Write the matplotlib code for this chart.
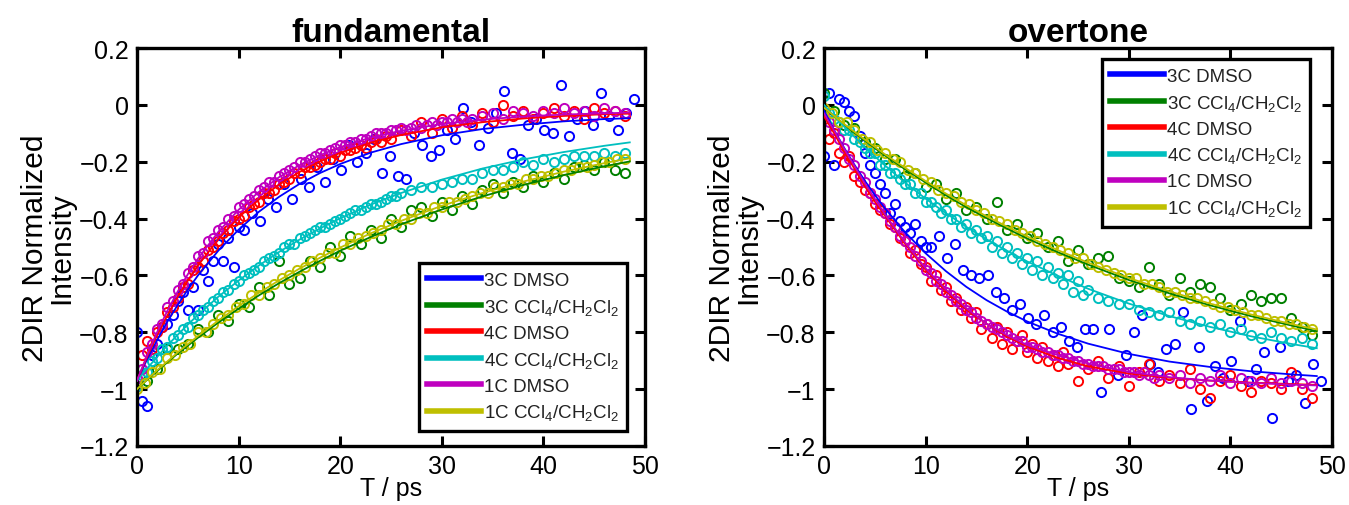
import numpy as np
import matplotlib
matplotlib.use("Agg")
import matplotlib.pyplot as plt

plt.rcParams['font.family'] = ['Liberation Sans', 'DejaVu Sans']
plt.rcParams['mathtext.default'] = 'regular'

# ---------------- labels / colours ----------------
series_labels = ['3C DMSO', '3C CCl$_4$/CH$_2$Cl$_2$', '4C DMSO',
                 '4C CCl$_4$/CH$_2$Cl$_2$', '1C DMSO', '1C CCl$_4$/CH$_2$Cl$_2$']
series_colors = ['#0000ff', '#008000', '#ff0000', '#00bfbf', '#bf00bf', '#bfbf00']
panel_titles = ['fundamental', 'overtone']
x_ticks = [0, 10, 20, 30, 40, 50]
y_ticks = [0.2, 0, -0.2, -0.4, -0.6, -0.8, -1.0, -1.2]
y_ticklabels = ['0.2', '0', '\u22120.2', '\u22120.4', '\u22120.6', '\u22120.8', '\u22121', '\u22121.2']

# time grid at which the fit lines are drawn (ps)
fit_t = [0, 1, 2, 3, 4, 5, 6, 8, 10, 12, 14, 16, 18, 20, 23, 26, 30, 34, 38, 42, 46, 48.5]

# ================= FUNDAMENTAL =================
# 3C DMSO (blue): 0-10 ps every 0.5 ps, then 10.5-48.9 every 0.8 ps
fund_3C_DMSO_a = [-0.80, -1.04, -1.06, -0.88, -0.84, -0.78, -0.77, -0.74, -0.69, -0.66, -0.72,
                  -0.64, -0.72, -0.58, -0.62, -0.55, -0.49, -0.55, -0.47, -0.57, -0.43]
fund_3C_DMSO_b = [-0.44, -0.38, -0.41, -0.33, -0.36, -0.28, -0.33, -0.26, -0.29, -0.22, -0.27,
                  -0.19, -0.23, -0.14, -0.20, -0.17, -0.12, -0.24, -0.18, -0.25, -0.26, -0.10,
                  -0.14, -0.18, -0.16, -0.09, -0.12, -0.01, -0.06, -0.14, -0.08, -0.03, 0.05,
                  -0.17, -0.19, -0.07, -0.05, -0.09, -0.10, 0.07, -0.11, -0.05, -0.02, -0.07,
                  0.04, -0.04, -0.09, -0.03, 0.02]
# 3C CCl4/CH2Cl2 (green): every 1 ps
fund_3C_CCl4 = [-0.99, -0.97, -0.93, -0.86, -0.86, -0.84, -0.79, -0.80, -0.74, -0.76, -0.70,
                -0.71, -0.64, -0.67, -0.55, -0.63, -0.61, -0.55, -0.57, -0.50, -0.53, -0.46,
                -0.49, -0.44, -0.47, -0.40, -0.43, -0.37, -0.36, -0.39, -0.34, -0.37, -0.32,
                -0.35, -0.30, -0.28, -0.31, -0.27, -0.29, -0.25, -0.27, -0.24, -0.26, -0.22,
                -0.21, -0.23, -0.20, -0.23, -0.24]
# 4C DMSO (red): 0-25 ps every 0.5 ps, then 26-48 every 1 ps
fund_4C_DMSO_a = [-0.99, -0.88, -0.83, -0.86, -0.80, -0.78, -0.73, -0.71, -0.68, -0.64, -0.63,
                  -0.58, -0.57, -0.55, -0.51, -0.50, -0.48, -0.45, -0.44, -0.41, -0.40, -0.39,
                  -0.36, -0.35, -0.34, -0.31, -0.31, -0.30, -0.28, -0.27, -0.26, -0.24, -0.24,
                  -0.22, -0.22, -0.21, -0.20, -0.19, -0.19, -0.17, -0.18, -0.16, -0.16, -0.15,
                  -0.14, -0.15, -0.13, -0.12, -0.13, -0.11, -0.12]
fund_4C_DMSO_b = [-0.09, -0.11, -0.06, -0.10, -0.05, -0.08, -0.04, -0.07, -0.03, -0.06, 0.00,
                  -0.04, -0.02, -0.05, -0.03, -0.01, -0.04, -0.02, -0.05, -0.01, -0.03, -0.02,
                  -0.04]
# 4C CCl4/CH2Cl2 (cyan): 0-26 ps every 0.5 ps, then 27-48 every 1 ps
fund_4C_CCl4_a = [-0.99, -0.95, -0.94, -0.90, -0.89, -0.86, -0.85, -0.82, -0.81, -0.79, -0.78,
                  -0.75, -0.74, -0.72, -0.71, -0.69, -0.68, -0.66, -0.65, -0.63, -0.62, -0.60,
                  -0.59, -0.58, -0.57, -0.55, -0.54, -0.53, -0.52, -0.50, -0.49, -0.49, -0.47,
                  -0.46, -0.45, -0.44, -0.43, -0.43, -0.42, -0.41, -0.40, -0.39, -0.38, -0.37,
                  -0.37, -0.36, -0.35, -0.35, -0.34, -0.33, -0.32, -0.32, -0.31]
fund_4C_CCl4_b = [-0.30, -0.29, -0.29, -0.28, -0.27, -0.26, -0.26, -0.24, -0.23, -0.23, -0.22,
                  -0.20, -0.21, -0.19, -0.20, -0.19, -0.18, -0.18, -0.18, -0.17, -0.18, -0.17]
# 1C DMSO (magenta): 0-33 ps every 0.5 ps, then 34-48 every 1 ps
fund_1C_DMSO_a = [-0.96, -0.93, -0.87, -0.84, -0.79, -0.77, -0.71, -0.69, -0.65, -0.63, -0.59,
                  -0.57, -0.53, -0.52, -0.48, -0.47, -0.44, -0.43, -0.40, -0.39, -0.36, -0.35,
                  -0.33, -0.32, -0.30, -0.29, -0.27, -0.27, -0.25, -0.24, -0.23, -0.22, -0.20,
                  -0.20, -0.19, -0.18, -0.17, -0.17, -0.16, -0.15, -0.14, -0.14, -0.13, -0.13,
                  -0.12, -0.12, -0.11, -0.10, -0.10, -0.10, -0.09, -0.09, -0.08, -0.09, -0.08,
                  -0.07, -0.08, -0.07, -0.06, -0.07, -0.06, -0.06, -0.05, -0.06, -0.05, -0.06,
                  -0.05]
fund_1C_DMSO_b = [-0.04, -0.03, -0.05, -0.02, -0.03, -0.04, -0.02, -0.03, -0.01, -0.03, -0.02,
                  -0.04, -0.01, -0.02, -0.03]
# 1C CCl4/CH2Cl2 (olive): every 0.75 ps
fund_1C_CCl4 = [-1.00, -0.98, -0.94, -0.93, -0.89, -0.88, -0.85, -0.84, -0.80, -0.80, -0.77,
                -0.75, -0.74, -0.71, -0.70, -0.67, -0.67, -0.64, -0.63, -0.61, -0.60, -0.58,
                -0.57, -0.55, -0.54, -0.52, -0.52, -0.49, -0.49, -0.47, -0.46, -0.45, -0.44,
                -0.42, -0.42, -0.40, -0.40, -0.38, -0.38, -0.36, -0.36, -0.34, -0.34, -0.33,
                -0.32, -0.31, -0.31, -0.29, -0.29, -0.28, -0.28, -0.26, -0.26, -0.25, -0.25,
                -0.24, -0.23, -0.23, -0.22, -0.22, -0.21, -0.20, -0.20, -0.19, -0.19]

# fit lines (values at fit_t)
fund_fit_3C_DMSO = [-0.970, -0.895, -0.826, -0.762, -0.704, -0.650, -0.600, -0.513, -0.439, -0.376,
                    -0.323, -0.278, -0.240, -0.208, -0.168, -0.138, -0.107, -0.085, -0.070, -0.058,
                    -0.050, -0.047]
fund_fit_3C_CCl4 = [-1.000, -0.967, -0.936, -0.905, -0.875, -0.847, -0.819, -0.766, -0.717, -0.670,
                    -0.627, -0.587, -0.549, -0.513, -0.465, -0.420, -0.368, -0.322, -0.282, -0.247,
                    -0.216, -0.199]
fund_fit_4C_DMSO = [-0.970, -0.886, -0.809, -0.740, -0.676, -0.618, -0.565, -0.473, -0.396, -0.333,
                    -0.280, -0.236, -0.199, -0.169, -0.133, -0.106, -0.079, -0.061, -0.048, -0.039,
                    -0.033, -0.031]
fund_fit_4C_CCl4 = [-0.970, -0.927, -0.886, -0.846, -0.809, -0.773, -0.739, -0.675, -0.618, -0.565,
                    -0.517, -0.474, -0.435, -0.399, -0.351, -0.310, -0.263, -0.224, -0.192, -0.166,
                    -0.144, -0.132]
fund_fit_1C_DMSO = [-0.970, -0.880, -0.798, -0.724, -0.657, -0.596, -0.541, -0.447, -0.369, -0.306,
                    -0.254, -0.212, -0.177, -0.149, -0.115, -0.091, -0.067, -0.052, -0.041, -0.034,
                    -0.030, -0.027]
fund_fit_1C_CCl4 = [-1.000, -0.966, -0.933, -0.902, -0.871, -0.842, -0.813, -0.759, -0.708, -0.661,
                    -0.617, -0.576, -0.538, -0.502, -0.452, -0.408, -0.355, -0.310, -0.270, -0.235,
                    -0.205, -0.188]

# ================= OVERTONE =================
over_3C_DMSO_a = [-0.18, 0.04, -0.21, 0.02, 0.01, -0.02, -0.04, -0.11, -0.17, -0.21, -0.24,
                  -0.28, -0.31, -0.38, -0.35, -0.41, -0.43, -0.45, -0.42, -0.48, -0.50]
over_3C_DMSO_b = [-0.50, -0.46, -0.54, -0.49, -0.58, -0.60, -0.61, -0.60, -0.66, -0.68, -0.72,
                  -0.70, -0.75, -0.77, -0.74, -0.80, -0.78, -0.83, -0.85, -0.79, -0.79, -1.01,
                  -0.79, -0.95, -0.88, -0.80, -0.74, -0.91, -0.94, -0.86, -0.84, -0.73, -1.07,
                  -0.85, -1.04, -0.92, -0.96, -0.90, -0.76, -0.97, -0.93, -0.87, -1.10, -0.85,
                  -0.97, -0.95, -1.05, -0.91, -0.97]
over_3C_CCl4 = [0.04, -0.02, -0.07, -0.08, -0.13, -0.15, -0.19, -0.19, -0.25, -0.24, -0.29,
                -0.28, -0.33, -0.31, -0.37, -0.36, -0.40, -0.34, -0.44, -0.42, -0.47, -0.45,
                -0.50, -0.48, -0.55, -0.51, -0.56, -0.54, -0.53, -0.61, -0.62, -0.64, -0.57,
                -0.63, -0.67, -0.61, -0.66, -0.63, -0.64, -0.68, -0.72, -0.70, -0.67, -0.69,
                -0.68, -0.68, -0.75, -0.78, -0.81]
over_4C_DMSO_a = [-0.05, -0.12, -0.10, -0.17, -0.20, -0.18, -0.25, -0.27, -0.30, -0.31, -0.35,
                  -0.37, -0.38, -0.42, -0.43, -0.47, -0.48, -0.52, -0.51, -0.56, -0.57, -0.62,
                  -0.60, -0.65, -0.64, -0.69, -0.68, -0.72, -0.71, -0.75, -0.73, -0.79, -0.77,
                  -0.82, -0.78, -0.84, -0.80, -0.86, -0.83, -0.81, -0.87, -0.84, -0.89, -0.85,
                  -0.90, -0.88, -0.92, -0.87, -0.91]
over_4C_DMSO_b = [-0.97, -0.93, -0.90, -0.96, -0.92, -0.99, -0.94, -0.91, -0.97, -0.95, -0.98,
                  -0.93, -1.00, -1.03, -0.97, -0.95, -0.99, -1.01, -0.97, -0.98, -1.00, -0.94,
                  -1.00, -1.03]
over_4C_CCl4_a = [0.03, -0.03, -0.05, -0.06, -0.09, -0.09, -0.12, -0.13, -0.15, -0.17, -0.17,
                  -0.21, -0.21, -0.24, -0.24, -0.26, -0.28, -0.28, -0.31, -0.31, -0.34, -0.34,
                  -0.36, -0.38, -0.37, -0.40, -0.40, -0.43, -0.42, -0.45, -0.44, -0.47, -0.46,
                  -0.50, -0.48, -0.52, -0.50, -0.54, -0.52, -0.56, -0.54, -0.58, -0.55, -0.60,
                  -0.57, -0.61, -0.59, -0.63, -0.60, -0.66, -0.62, -0.67, -0.65]
over_4C_CCl4_b = [-0.68, -0.69, -0.70, -0.70, -0.72, -0.73, -0.74, -0.73, -0.76, -0.77, -0.76,
                  -0.78, -0.77, -0.80, -0.79, -0.81, -0.82, -0.80, -0.82, -0.83, -0.82, -0.84]
over_1C_DMSO_a = [-0.03, -0.06, -0.09, -0.12, -0.15, -0.19, -0.21, -0.25, -0.27, -0.31, -0.33,
                  -0.36, -0.38, -0.41, -0.43, -0.46, -0.48, -0.50, -0.53, -0.55, -0.58, -0.59,
                  -0.62, -0.63, -0.66, -0.67, -0.69, -0.70, -0.72, -0.73, -0.75, -0.76, -0.77,
                  -0.78, -0.79, -0.80, -0.81, -0.82, -0.83, -0.83, -0.85, -0.85, -0.86, -0.87,
                  -0.87, -0.88, -0.88, -0.89, -0.89, -0.90, -0.90, -0.91, -0.91, -0.92, -0.92,
                  -0.92, -0.93, -0.93, -0.93, -0.94, -0.94, -0.94, -0.95, -0.94, -0.95, -0.96,
                  -0.95]
over_1C_DMSO_b = [-0.96, -0.95, -0.98, -0.96, -0.97, -0.95, -0.98, -0.96, -0.97, -0.98, -0.96,
                  -0.98, -0.97, -0.98, -0.99]
over_1C_CCl4 = [-0.01, -0.03, -0.06, -0.06, -0.09, -0.12, -0.13, -0.16, -0.17, -0.19, -0.20,
                -0.23, -0.24, -0.26, -0.27, -0.30, -0.31, -0.32, -0.34, -0.35, -0.37, -0.38,
                -0.40, -0.41, -0.42, -0.44, -0.45, -0.46, -0.48, -0.49, -0.50, -0.51, -0.52,
                -0.54, -0.54, -0.56, -0.57, -0.58, -0.59, -0.60, -0.61, -0.61, -0.63, -0.63,
                -0.64, -0.66, -0.66, -0.67, -0.68, -0.68, -0.69, -0.70, -0.71, -0.71, -0.72,
                -0.73, -0.74, -0.74, -0.75, -0.76, -0.76, -0.77, -0.77, -0.78, -0.79]

over_fit_3C_DMSO = [-0.020, -0.089, -0.152, -0.211, -0.266, -0.317, -0.364, -0.449, -0.522, -0.585,
                    -0.640, -0.687, -0.727, -0.762, -0.805, -0.840, -0.876, -0.903, -0.922, -0.937,
                    -0.948, -0.954]
over_fit_3C_CCl4 = [-0.010, -0.040, -0.070, -0.098, -0.125, -0.152, -0.178, -0.227, -0.273, -0.318,
                    -0.360, -0.398, -0.435, -0.470, -0.518, -0.562, -0.616, -0.663, -0.705, -0.743,
                    -0.776, -0.796]
over_fit_4C_DMSO = [-0.040, -0.100, -0.165, -0.225, -0.285, -0.340, -0.390, -0.490, -0.580, -0.655,
                    -0.720, -0.770, -0.815, -0.850, -0.890, -0.920, -0.945, -0.960, -0.970, -0.977,
                    -0.982, -0.985]
over_fit_4C_CCl4 = [0.000, -0.039, -0.077, -0.113, -0.148, -0.181, -0.213, -0.274, -0.330, -0.381,
                    -0.429, -0.473, -0.513, -0.551, -0.601, -0.647, -0.699, -0.743, -0.781, -0.814,
                    -0.841, -0.856]
over_fit_1C_DMSO = [-0.030, -0.090, -0.155, -0.215, -0.275, -0.330, -0.385, -0.485, -0.575, -0.650,
                    -0.715, -0.770, -0.810, -0.845, -0.880, -0.910, -0.940, -0.958, -0.970, -0.978,
                    -0.984, -0.987]
over_fit_1C_CCl4 = [-0.010, -0.039, -0.068, -0.095, -0.122, -0.148, -0.174, -0.222, -0.268, -0.312,
                    -0.353, -0.392, -0.428, -0.463, -0.511, -0.555, -0.609, -0.656, -0.699, -0.737,
                    -0.771, -0.790]


def grid(start, step, values):
    """Acquisition delays for a block of measured values."""
    return start + step * np.arange(len(values))


def series(blocks):
    t = np.concatenate([grid(s, d, v) for s, d, v in blocks])
    y = np.concatenate([np.asarray(v, float) for s, d, v in blocks])
    return t, y


fund_series = [
    series([(0, 0.5, fund_3C_DMSO_a), (10.5, 0.8, fund_3C_DMSO_b)]),
    series([(0, 1.0, fund_3C_CCl4)]),
    series([(0, 0.5, fund_4C_DMSO_a), (26, 1.0, fund_4C_DMSO_b)]),
    series([(0, 0.5, fund_4C_CCl4_a), (27, 1.0, fund_4C_CCl4_b)]),
    series([(0, 0.5, fund_1C_DMSO_a), (34, 1.0, fund_1C_DMSO_b)]),
    series([(0, 0.75, fund_1C_CCl4)]),
]
fund_fits = [fund_fit_3C_DMSO, fund_fit_3C_CCl4, fund_fit_4C_DMSO,
             fund_fit_4C_CCl4, fund_fit_1C_DMSO, fund_fit_1C_CCl4]

over_series = [
    series([(0, 0.5, over_3C_DMSO_a), (10.5, 0.8, over_3C_DMSO_b)]),
    series([(0, 1.0, over_3C_CCl4)]),
    series([(0, 0.5, over_4C_DMSO_a), (25, 1.0, over_4C_DMSO_b)]),
    series([(0, 0.5, over_4C_CCl4_a), (27, 1.0, over_4C_CCl4_b)]),
    series([(0, 0.5, over_1C_DMSO_a), (34, 1.0, over_1C_DMSO_b)]),
    series([(0, 0.75, over_1C_CCl4)]),
]
over_fits = [over_fit_3C_DMSO, over_fit_3C_CCl4, over_fit_4C_DMSO,
             over_fit_4C_CCl4, over_fit_1C_DMSO, over_fit_1C_CCl4]

W, H = 1349, 506
fig = plt.figure(figsize=(W / 100, H / 100), dpi=100)
ax_bottom = 1 - 447 / H
ax_height = 398 / H
ax1 = fig.add_axes([137 / W, ax_bottom, 508 / W, ax_height])
ax2 = fig.add_axes([824 / W, ax_bottom, 508 / W, ax_height])

panels = [(ax1, fund_series, fund_fits, 'lower right', (0.965, 0.038)),
          (ax2, over_series, over_fits, 'upper right', (0.957, 0.972))]

for k, (ax, data, fits, loc, anchor) in enumerate(panels):
    handles = []
    for (t, y), fy, c, lab in zip(data, fits, series_colors, series_labels):
        ax.plot(t, y, linestyle='none', marker='o', markersize=6.6,
                markerfacecolor='none', markeredgecolor=c, markeredgewidth=1.4,
                zorder=2)
        h, = ax.plot(fit_t, fy, color=c, linewidth=1.3, zorder=3, label=lab)
        handles.append(h)
    ax.set_xlim(0, 50)
    ax.set_ylim(-1.2, 0.2)
    ax.set_xticks(x_ticks)
    ax.set_xticklabels([str(v) for v in x_ticks])
    ax.set_yticks(y_ticks)
    ax.set_yticklabels(y_ticklabels)
    ax.tick_params(direction='in', length=7, width=2.2, top=True, right=True,
                   labelsize=18, pad=6)
    for sp in ax.spines.values():
        sp.set_linewidth(2.4)
    ax.set_title(panel_titles[k], fontsize=24, fontweight='bold', pad=5)
    ax.set_xlabel('T / ps', fontsize=18, labelpad=-2)
    ax.set_ylabel('2DIR Normalized\nIntensity', fontsize=21.5, labelpad=3,
                  linespacing=0.92)
    leg = ax.legend(handles=handles, loc=loc, bbox_to_anchor=anchor,
                    borderaxespad=0, fontsize=13.5, handlelength=2.9,
                    handletextpad=0.12, labelspacing=0.42, borderpad=0.45,
                    fancybox=False, framealpha=1, edgecolor='black')
    leg.get_frame().set_linewidth(2.4)
    for ln in leg.get_lines():
        ln.set_linewidth(4.0)
    for tx in leg.get_texts():
        tx.set_color('#222222')

fig.savefig('out.png', dpi=100)
